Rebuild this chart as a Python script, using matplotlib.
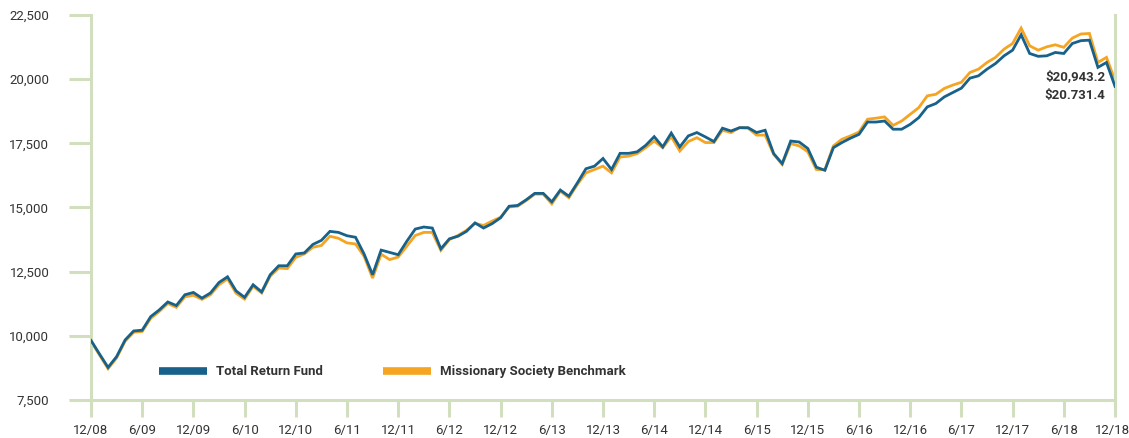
import numpy as np
import matplotlib
matplotlib.use("Agg")
from matplotlib import pyplot as plt
from matplotlib.transforms import ScaledTranslation

# monthly values 12/08 .. 12/18
fund = [9820, 9290, 8770, 9190, 9840, 10190, 10220, 10750, 11010, 11320,
        11180, 11600, 11690, 11470, 11670, 12080, 12300, 11750, 11500, 11990,
        11710, 12380, 12730, 12730, 13190, 13230, 13560, 13720, 14070, 14030,
        13900, 13840, 13190, 12380, 13340, 13250, 13160, 13680, 14160, 14240,
        14200, 13390, 13780, 13880, 14070, 14400, 14200, 14370, 14600, 15050,
        15080, 15300, 15550, 15550, 15220, 15680, 15440, 15960, 16510, 16610,
        16910, 16480, 17110, 17110, 17170, 17420, 17760, 17360, 17900, 17360,
        17790, 17920, 17750, 17570, 18090, 17980, 18110, 18110, 17920, 18010,
        17100, 16710, 17590, 17550, 17300, 16570, 16450, 17330, 17530, 17700,
        17850, 18330, 18330, 18370, 18050, 18050, 18240, 18500, 18920, 19050,
        19310, 19480, 19650, 20040, 20130, 20390, 20610, 20910, 21130, 21730,
        21000, 20890, 20910, 21040, 21000, 21390, 21500, 21520, 20460, 20650,
        19720]
bench = [9800, 9250, 8720, 9140, 9790, 10140, 10170, 10680, 10950, 11260,
         11110, 11520, 11580, 11420, 11600, 11990, 12220, 11660, 11430, 11930,
         11670, 12320, 12640, 12620, 13060, 13190, 13450, 13520, 13880, 13800,
         13620, 13580, 13100, 12250, 13180, 12970, 13070, 13490, 13910, 14030,
         14030, 13330, 13750, 13910, 14110, 14380, 14300, 14470, 14620, 15020,
         15050, 15270, 15520, 15520, 15140, 15640, 15380, 15900, 16350, 16480,
         16610, 16350, 16970, 17000, 17100, 17330, 17590, 17330, 17760, 17200,
         17570, 17720, 17530, 17530, 18010, 17920, 18110, 18090, 17820, 17820,
         17070, 16680, 17490, 17400, 17170, 16480, 16470, 17400, 17660, 17790,
         17940, 18440, 18480, 18530, 18200, 18370, 18630, 18890, 19350, 19410,
         19640, 19770, 19880, 20260, 20390, 20650, 20850, 21170, 21390, 21990,
         21300, 21130, 21260, 21340, 21240, 21600, 21760, 21780, 20650, 20850,
         19950]
x_labels = ["12/08", "6/09", "12/09", "6/10", "12/10", "6/11", "12/11",
            "6/12", "12/12", "6/13", "12/13", "6/14", "12/14", "6/15",
            "12/15", "6/16", "12/16", "6/17", "12/17", "6/18", "12/18"]
y_ticks = [7500, 10000, 12500, 15000, 17500, 20000, 22500]
end_labels = ["$20,943.2", "$20.731.4"]

blue = "#17618a"
orange = "#f5a522"
green = "#d2dfbf"
txt = "#333333"

plt.rcParams["font.family"] = ["Roboto", "DejaVu Sans"]

fig = plt.figure(figsize=(11.29, 4.38), dpi=100)
ax = fig.add_axes([91 / 1129, 1 - 400 / 438, 1024 / 1129, 385 / 438])

x = np.arange(len(fund))
ax.plot(x, bench, color=orange, lw=2.0, label="Missionary Society Benchmark",
        solid_joinstyle="miter", zorder=2)
ax.plot(x, fund, color=blue, lw=2.0, label="Total Return Fund",
        solid_joinstyle="miter", zorder=3)

ax.set_xlim(0, len(fund) - 1)
ax.set_ylim(y_ticks[0], y_ticks[-1])
ax.set_xticks(np.arange(0, len(fund), 6))
ax.set_xticklabels(x_labels)
ax.set_yticks(y_ticks)
ax.set_yticklabels([f"{v:,}" for v in y_ticks])

for s in ["left", "right", "bottom"]:
    ax.spines[s].set_color(green)
    ax.spines[s].set_linewidth(2.2)
ax.spines["top"].set_visible(False)
ax.tick_params(axis="y", length=16, width=2.2, color=green, pad=14,
               labelsize=9.5, labelcolor=txt)
ax.tick_params(axis="x", length=12, width=2.2, color=green, pad=5,
               labelsize=9.5, labelcolor=txt)

# last date label sits right at the figure edge, nudge it in a bit
last = ax.get_xticklabels()[-1]
last.set_transform(last.get_transform() + ScaledTranslation(-3 / 100, 0, fig.dpi_scale_trans))

handles, labels = ax.get_legend_handles_labels()
leg = ax.legend(handles[::-1], labels[::-1], ncol=2, frameon=False,
                loc="center left", bbox_to_anchor=((159 - 91) / 1024, 0.073),
                handlelength=3.6, handletextpad=0.7, columnspacing=4.6,
                borderaxespad=0, borderpad=0,
                prop={"size": 9.5, "weight": "bold"})
for t in leg.get_texts():
    t.set_color(txt)
for h in leg.get_lines():
    h.set_linewidth(5.5)
    h.set_solid_capstyle("butt")

ax.text(len(fund) - 2.1, 20100, "\\" + end_labels[0], ha="right", va="center",
        fontsize=9.5, fontweight="bold", color=txt)
ax.text(len(fund) - 2.1, 19350, "\\" + end_labels[1], ha="right", va="center",
        fontsize=9.5, fontweight="bold", color=txt)

fig.savefig("out.png", dpi=100)
